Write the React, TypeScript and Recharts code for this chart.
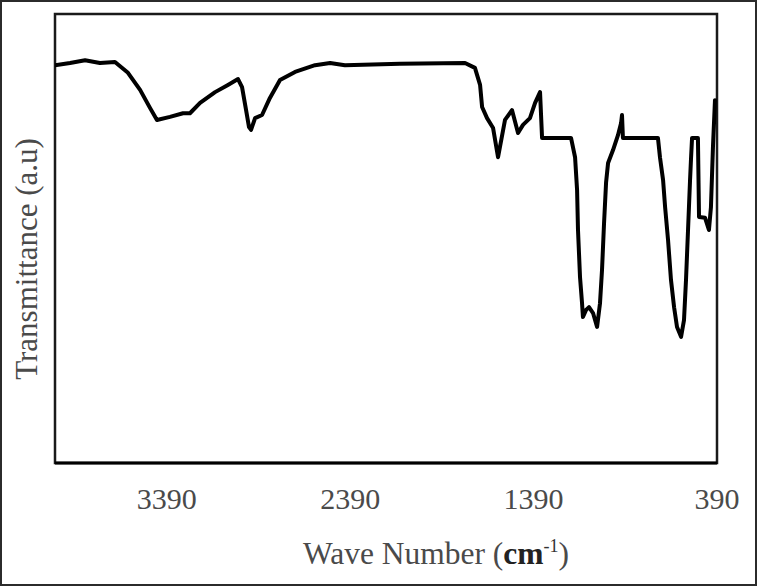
import React from "react";
import { LineChart, Line, XAxis, YAxis, ReferenceArea } from "recharts";

const wavenumbers = [
  4000, 3918, 3836, 3755, 3673, 3602, 3536, 3482, 3444, 3373, 3302, 3264, 3209, 3127, 3057, 3002,
  2980, 2958, 2942, 2931, 2909, 2871, 2828, 2773, 2691, 2582, 2500, 2419, 2119, 1764, 1710, 1682,
  1671, 1644, 1611, 1584, 1546, 1508, 1475, 1448, 1410, 1382, 1355, 1344, 1186, 1164, 1153, 1148,
  1137, 1126, 1121, 1104, 1088, 1066, 1044, 1028, 1017, 1006, 995, 984, 957, 930, 913, 908, 903,
  712, 701, 684, 673, 657, 641, 624, 608, 586, 570, 559, 548, 537, 532, 526, 494, 488, 455, 434,
  423, 412, 401,
];

const transmittance = [
  88.6, 89.1, 89.7, 89.1, 89.3, 86.9, 83.1, 79.1, 76.4, 77.1, 77.9, 77.9, 80.2, 82.6, 84.2, 85.5,
  83.7, 78.6, 74.8, 74.2, 76.8, 77.5, 81.3, 85.3, 87.1, 88.6, 89.1, 88.6, 88.9, 89.1, 88.0, 84.2,
  79.3, 76.8, 74.6, 68.1, 76.4, 78.6, 73.5, 75.3, 76.8, 80.2, 82.6, 72.4, 72.4, 68.1, 60.8, 51.9,
  41.4, 35.6, 32.5, 34.1, 34.7, 33.4, 30.3, 35.6, 43.0, 53.4, 62.4, 66.8, 69.7, 73.0, 75.7, 77.5, 72.4,
  72.4, 68.1, 63.0, 57.0, 49.7, 40.8, 34.7, 30.3, 28.1, 31.8, 40.8, 51.9, 63.0, 67.5, 72.4, 72.4, 54.8, 54.6, 51.9,
  57.0, 70.4, 80.8,
];

const xTicks = [3390, 2390, 1390, 390];

const data = wavenumbers.map((w, i) => ({ w, t: transmittance[i] }));

const FONT = "'Liberation Serif', 'Times New Roman', serif";

const Tick = (props: any) => {
  const { x, y, payload } = props;
  return (
    <text x={x} y={y + 46} textAnchor="middle" fontFamily={FONT} fontSize={30} fill="#4a4a4a">
      {payload.value}
    </text>
  );
};

const AxisTitles = () => (
  <g>
    <text x={436} y={564} textAnchor="middle" fontFamily={FONT} fontSize={31.5} fill="#4a4a4a">
      <tspan>Wave Number (</tspan>
      <tspan fontWeight="bold" fill="#222">cm</tspan>
      <tspan fontSize={18} dy={-12} fill="#333">-1</tspan>
      <tspan dy={12}>)</tspan>
    </text>
    <text
      x={37}
      y={259}
      transform="rotate(-90, 37, 259)"
      textAnchor="middle"
      fontFamily={FONT}
      fontSize={31}
      fill="#4a4a4a"
    >
      Transmittance (a.u)
    </text>
  </g>
);

export default function App() {
  return (
    <div style={{ position: "absolute", left: 0, top: 0, width: 757, height: 586, background: "#fff" }}>
      <LineChart
        width={757}
        height={586}
        data={data}
        margin={{ top: 14, right: 40, bottom: 0, left: 55 }}
      >
        <XAxis
          dataKey="w"
          type="number"
          domain={[390, 4000]}
          reversed
          ticks={xTicks}
          allowDataOverflow
          height={123}
          tickLine={false}
          tickSize={0}
          tickMargin={0}
          axisLine={{ stroke: "#000", strokeWidth: 3 }}
          tick={<Tick />}
          interval={0}
          label={{ content: () => <AxisTitles /> }}
        />
        <YAxis
          type="number"
          domain={[0, 100]}
          width={0}
          tick={false}
          tickLine={false}
          axisLine={{ stroke: "#000", strokeWidth: 3 }}
        />
        <ReferenceArea
          x1={4000}
          x2={390}
          y1={0}
          y2={100}
          stroke="#1a1a1a"
          strokeWidth={2.5}
          fill="none"
          fillOpacity={0}
          ifOverflow="visible"
        />
        <Line
          type="linear"
          dataKey="t"
          stroke="#000"
          strokeWidth={4}
          dot={false}
          isAnimationActive={false}
          strokeLinejoin="round"
          strokeLinecap="round"
        />
      </LineChart>
      <div
        style={{
          position: "absolute",
          left: 0,
          top: 0,
          width: 757,
          height: 586,
          border: "2px solid #2b2b2b",
          boxSizing: "border-box",
          pointerEvents: "none",
        }}
      />
    </div>
  );
}
